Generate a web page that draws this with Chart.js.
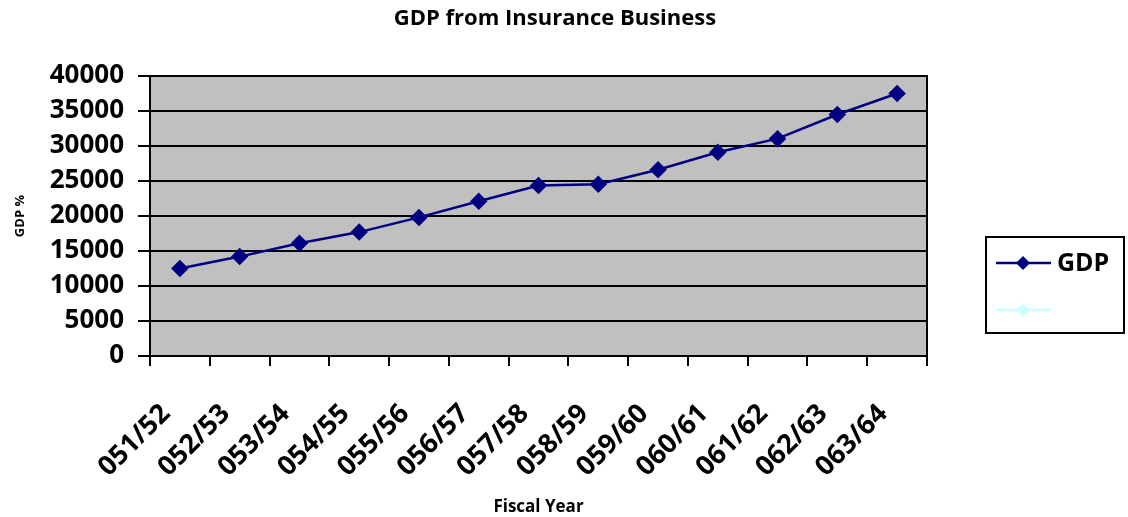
<!DOCTYPE html>
<html>
<head>
<meta charset="utf-8">
<title>GDP from Insurance Business</title>
<script src="https://cdn.jsdelivr.net/npm/chart.js@4"></script>
<style>
  html, body { margin: 0; padding: 0; background: #fff; }
</style>
</head>
<body>
<canvas id="chart" width="1128" height="517"></canvas>
<script>
// fiscal years and GDP values
const fiscalYears = ["051/52", "052/53", "053/54", "054/55", "055/56", "056/57", "057/58",
  "058/59", "059/60", "060/61", "061/62", "062/63", "063/64"];
const gdpValues = [12500, 14200, 16100, 17700, 19800, 22100, 24350,
  24550, 26600, 29100, 31050, 34500, 37500];
const yMin = 0;
const yMax = 40000;
const yStep = 5000;

const FONT = "'Open Sans', 'Liberation Sans', sans-serif";
const NAVY = "#000080";
const CYAN = "#CCFFFF";

// grey plot area behind the grid
const plotBackground = {
  id: "plotBackground",
  beforeDraw(chart) {
    const { ctx, chartArea: a } = chart;
    ctx.save();
    ctx.fillStyle = "#C0C0C0";
    ctx.fillRect(a.left, a.top, a.right - a.left, a.bottom - a.top);
    ctx.restore();
  },
};

// frame around the plot, plus the chart title centred over the page
const plotFrame = {
  id: "plotFrame",
  afterDraw(chart) {
    const { ctx, chartArea: a } = chart;
    ctx.save();
    ctx.strokeStyle = "#000";
    ctx.lineWidth = 2;
    ctx.strokeRect(a.left, a.top, a.right - a.left, a.bottom - a.top);
    ctx.fillStyle = "#000";
    ctx.font = "bold 22px " + FONT;
    ctx.textAlign = "center";
    ctx.textBaseline = "middle";
    ctx.fillText("GDP from Insurance Business", 555, 19);
    ctx.restore();
  },
};

// boxed legend on the right, drawn from the dataset styles
const boxLegend = {
  id: "boxLegend",
  afterDraw(chart) {
    const ctx = chart.ctx;
    const x = 986, y = 237, w = 138, h = 96;
    ctx.save();
    ctx.fillStyle = "#fff";
    ctx.fillRect(x, y, w, h);
    ctx.strokeStyle = "#000";
    ctx.lineWidth = 2;
    ctx.strokeRect(x, y, w, h);
    chart.data.datasets.forEach((ds, i) => {
      const cy = y + 26 + i * 47;
      ctx.strokeStyle = ds.borderColor;
      ctx.lineWidth = ds.borderWidth;
      ctx.beginPath();
      ctx.moveTo(x + 10, cy);
      ctx.lineTo(x + 65, cy);
      ctx.stroke();
      ctx.fillStyle = ds.pointBackgroundColor;
      ctx.beginPath();
      const r = ds.pointRadius;
      ctx.moveTo(x + 37, cy - r);
      ctx.lineTo(x + 37 + r, cy);
      ctx.lineTo(x + 37, cy + r);
      ctx.lineTo(x + 37 - r, cy);
      ctx.closePath();
      ctx.fill();
      if (ds.label) {
        ctx.fillStyle = "#000";
        ctx.font = "bold 25px " + FONT;
        ctx.textBaseline = "middle";
        ctx.fillText(ds.label, x + 71, cy + 1);
      }
    });
    ctx.restore();
  },
};

new Chart(document.getElementById("chart"), {
  type: "line",
  data: {
    labels: fiscalYears,
    datasets: [
      {
        label: "GDP",
        data: gdpValues,
        borderColor: NAVY,
        backgroundColor: NAVY,
        pointBackgroundColor: NAVY,
        pointBorderColor: NAVY,
        borderWidth: 2.5,
        pointStyle: "rectRot",
        pointRadius: 7,
        tension: 0,
      },
      {
        label: "",
        data: [],
        borderColor: CYAN,
        backgroundColor: CYAN,
        pointBackgroundColor: CYAN,
        borderWidth: 2.5,
        pointStyle: "rectRot",
        pointRadius: 7,
      },
    ],
  },
  options: {
    responsive: false,
    animation: false,
    layout: { padding: { left: 0, right: 201, top: 76, bottom: 0 } },
    plugins: {
      legend: { display: false },
      tooltip: { enabled: false },
      title: { display: false },
    },
    scales: {
      x: {
        type: "category",
        offset: true,
        afterFit(s) { s.height = 161; },
        grid: {
          offset: true,
          drawOnChartArea: false,
          drawTicks: true,
          tickLength: 10,
          color: "#000",
          lineWidth: 2,
        },
        border: { display: true, color: "#000", width: 2 },
        ticks: {
          color: "#000",
          minRotation: 45,
          maxRotation: 45,
          autoSkip: false,
          padding: 32,
          labelOffset: -14,
          font: { family: FONT, size: 27, weight: "bold" },
        },
        title: {
          display: true,
          text: "Fiscal Year",
          color: "#000",
          font: { family: FONT, size: 17, weight: "bold", lineHeight: 1.2 },
          padding: { top: 0, bottom: 0 },
        },
      },
      y: {
        min: yMin,
        max: yMax,
        afterFit(s) { s.width = 150; },
        grid: {
          color: "#000",
          lineWidth: 2,
          drawTicks: true,
          tickLength: 12,
        },
        border: { display: true, color: "#000", width: 2 },
        ticks: {
          stepSize: yStep,
          color: "#000",
          padding: 14,
          font: { family: FONT, size: 26, weight: "bold" },
          callback: (v) => String(v),
        },
        title: {
          display: true,
          text: "GDP %",
          color: "#000",
          font: { family: FONT, size: 13, weight: "bold" },
          padding: { top: 12, bottom: 12 },
        },
      },
    },
  },
  plugins: [plotBackground, plotFrame, boxLegend],
});
</script>
</body>
</html>
